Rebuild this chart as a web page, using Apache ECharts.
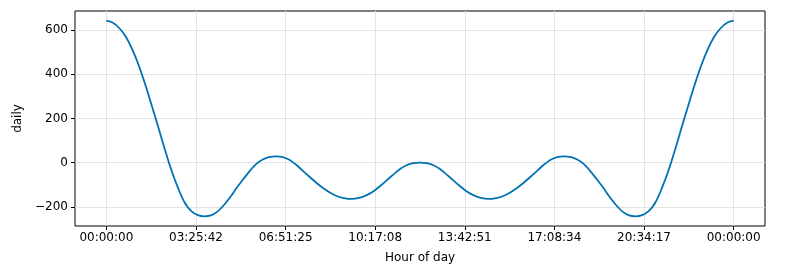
<!DOCTYPE html>
<html>
<head>
<meta charset="utf-8">
<script src="https://cdn.jsdelivr.net/npm/echarts@6/dist/echarts.min.js"></script>
<style>html,body{margin:0;padding:0;background:#fff}#c{width:794px;height:269px}</style>
</head>
<body>
<div id="c"></div>
<script>
// hours of day (0..24, every quarter hour)
const hours = [];
for (let i = 0; i <= 96; i++) hours.push(i / 4);
// daily seasonality values (one per quarter hour)
const daily = [
  642, 633, 608, 568, 510, 436, 349, 253, 155, 55, -38, -117, -182, -220, -238, -243,
  -239, -222, -192, -155, -112, -73, -36, -5, 15, 26, 28, 25, 13, -9, -35, -62,
  -88, -112, -132, -148, -159, -164, -163, -157, -145, -127, -104, -78, -52, -28, -11, -2,
  0,
  -2, -11, -28, -52, -78, -104, -127, -145, -157, -163, -164, -159, -148, -132, -112, -88,
  -62, -35, -9, 13, 25, 28, 26, 15, -5, -36, -73, -112, -155, -192, -222, -239,
  -243, -238, -220, -182, -117, -38, 55, 155, 253, 349, 436, 510, 568, 608, 633, 642
];
const xTickHours = [0, 24/7, 48/7, 72/7, 96/7, 120/7, 144/7, 24];
const xTickLabels = ['00:00:00','03:25:42','06:51:25','10:17:08','13:42:51','17:08:34','20:34:17','00:00:00'];
const yTicks = [-200, 0, 200, 400, 600];

const chart = echarts.init(document.getElementById('c'), null, {renderer: 'canvas'});
const font = 'DejaVu Sans';
chart.setOption({
  animation: false,
  backgroundColor: '#fff',
  grid: {left: 75, right: 29, top: 11, bottom: 43, show: true, borderColor: '#000', borderWidth: 1, backgroundColor: 'transparent'},
  xAxis: {
    type: 'value', min: -1.2, max: 25.2,
    name: 'Hour of day', nameLocation: 'middle', nameGap: 26,
    nameTextStyle: {fontFamily: font, fontSize: 12, color: '#000'},
    axisLine: {show: false, onZero: false},
    axisTick: {show: true, length: 4, lineStyle: {color: '#000', width: 1}, customValues: xTickHours},
    axisLabel: {fontFamily: font, fontSize: 12, color: '#000', margin: 6, customValues: xTickHours,
      formatter: function(v){ let best=0, bd=1e9; xTickHours.forEach((t,i)=>{const d=Math.abs(t-v); if(d<bd){bd=d;best=i;}}); return xTickLabels[best]; }},
    splitLine: {show: true, lineStyle: {color: '#e3e3e3', width: 1}}
  },
  yAxis: {
    type: 'value', min: -287, max: 686,
    name: 'daily', nameLocation: 'middle', nameGap: 47, nameRotate: 90,
    nameTextStyle: {fontFamily: font, fontSize: 12, color: '#000'},
    axisLine: {show: false, onZero: false},
    axisTick: {show: true, length: 4, lineStyle: {color: '#000', width: 1}, customValues: yTicks},
    axisLabel: {fontFamily: font, fontSize: 12, color: '#000', margin: 7, customValues: yTicks,
      formatter: function(v){ return v < 0 ? '\u2212' + Math.abs(v) : String(v); }},
    splitLine: {show: true, lineStyle: {color: '#e3e3e3', width: 1}}
  },
  series: [{
    type: 'line', data: hours.map((h,i)=>[h, daily[i]]),
    showSymbol: false, smooth: 0.3,
    lineStyle: {color: '#0072B2', width: 1.8}
  }]
});
</script>
</body>
</html>
